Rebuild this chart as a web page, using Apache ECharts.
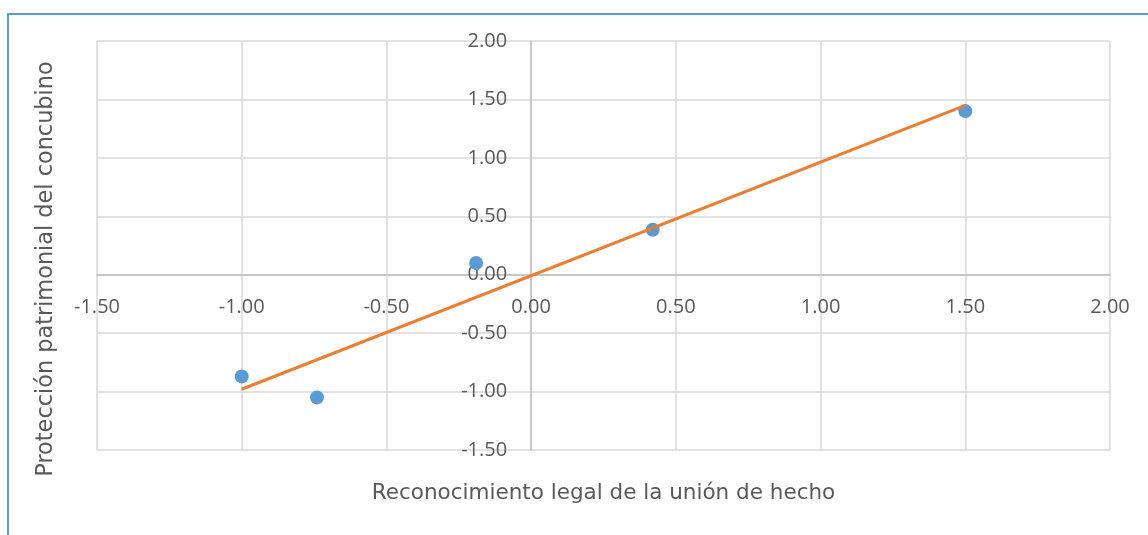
<!DOCTYPE html>
<html>
<head>
<meta charset="utf-8">
<script src="https://cdn.jsdelivr.net/npm/echarts@6/dist/echarts.min.js"></script>
<style>
html,body{margin:0;padding:0;background:#fff;}
#chart{width:1148px;height:535px;}
</style>
</head>
<body>
<div id="chart"></div>
<script>
// Data
const xValues = [-1.00, -0.74, -0.19, 0.42, 1.50];
const yValues = [-0.87, -1.05, 0.10, 0.385, 1.40];
const trendX = [-1.00, 1.50];
const trendY = [-0.98, 1.45];
const xTitle = 'Reconocimiento legal de la unión de hecho';
const yTitle = 'Protección patrimonial del concubino';

const points = xValues.map((x, i) => [x, yValues[i]]);
const trend = trendX.map((x, i) => [x, trendY[i]]);

const chart = echarts.init(document.getElementById('chart'), null, {renderer: 'canvas'});
const fmt = v => v.toFixed(2);
const labelFont = {fontFamily: 'Open Sans', fontSize: 20, color: '#595959'};

function axisBase(extra) {
  return Object.assign({
    type: 'value', min: -1.5, max: 2, interval: 0.5,
    axisLine: {onZero: false, lineStyle: {color: '#BFBFBF', width: 1.5}},
    axisTick: {show: false},
    axisLabel: Object.assign({formatter: fmt, margin: 23}, labelFont),
    splitLine: {show: true, lineStyle: {color: '#D9D9D9', width: 1.5}}
  }, extra);
}

chart.setOption({
  animation: false,
  backgroundColor: '#ffffff',
  grid: {left: 97, right: 38, top: 41, bottom: 85, containLabel: false},
  xAxis: axisBase({}),
  yAxis: axisBase({}),
  series: [
    {
      type: 'line', data: trend, symbol: 'none', z: 3,
      lineStyle: {color: '#ED7D31', width: 3}
    },
    {
      type: 'scatter', data: points, symbol: 'circle', symbolSize: 14, z: 2,
      itemStyle: {color: '#5B9BD5', opacity: 1}
    }
  ]
});

// move both axes (line + labels) onto the zero lines, as in the reference
const grid = chart.getModel().getComponent('grid').coordinateSystem.getRect();
const zero = chart.convertToPixel({gridIndex: 0}, [0, 0]);
chart.setOption({
  xAxis: {offset: -(grid.y + grid.height - zero[1])},
  yAxis: {offset: -(zero[0] - grid.x), axisLabel: {margin: 24}},
  graphic: [
    {type: 'rect', shape: {x: 8, y: 14, width: 1200, height: 600},
     style: {fill: 'none', stroke: '#5B9BD5', lineWidth: 2}, z: 0, silent: true},
    {type: 'text', x: grid.x + grid.width / 2, y: grid.y + grid.height + 43,
     style: {text: xTitle, font: '21.5px "DejaVu Sans"', fill: '#595959', textAlign: 'center', textVerticalAlign: 'middle'}},
    {type: 'text', x: 46, y: 269, rotation: Math.PI / 2,
     style: {text: yTitle, font: '22.4px "DejaVu Sans"', fill: '#595959', textAlign: 'center', textVerticalAlign: 'middle'}}
  ]
});
</script>
</body>
</html>
